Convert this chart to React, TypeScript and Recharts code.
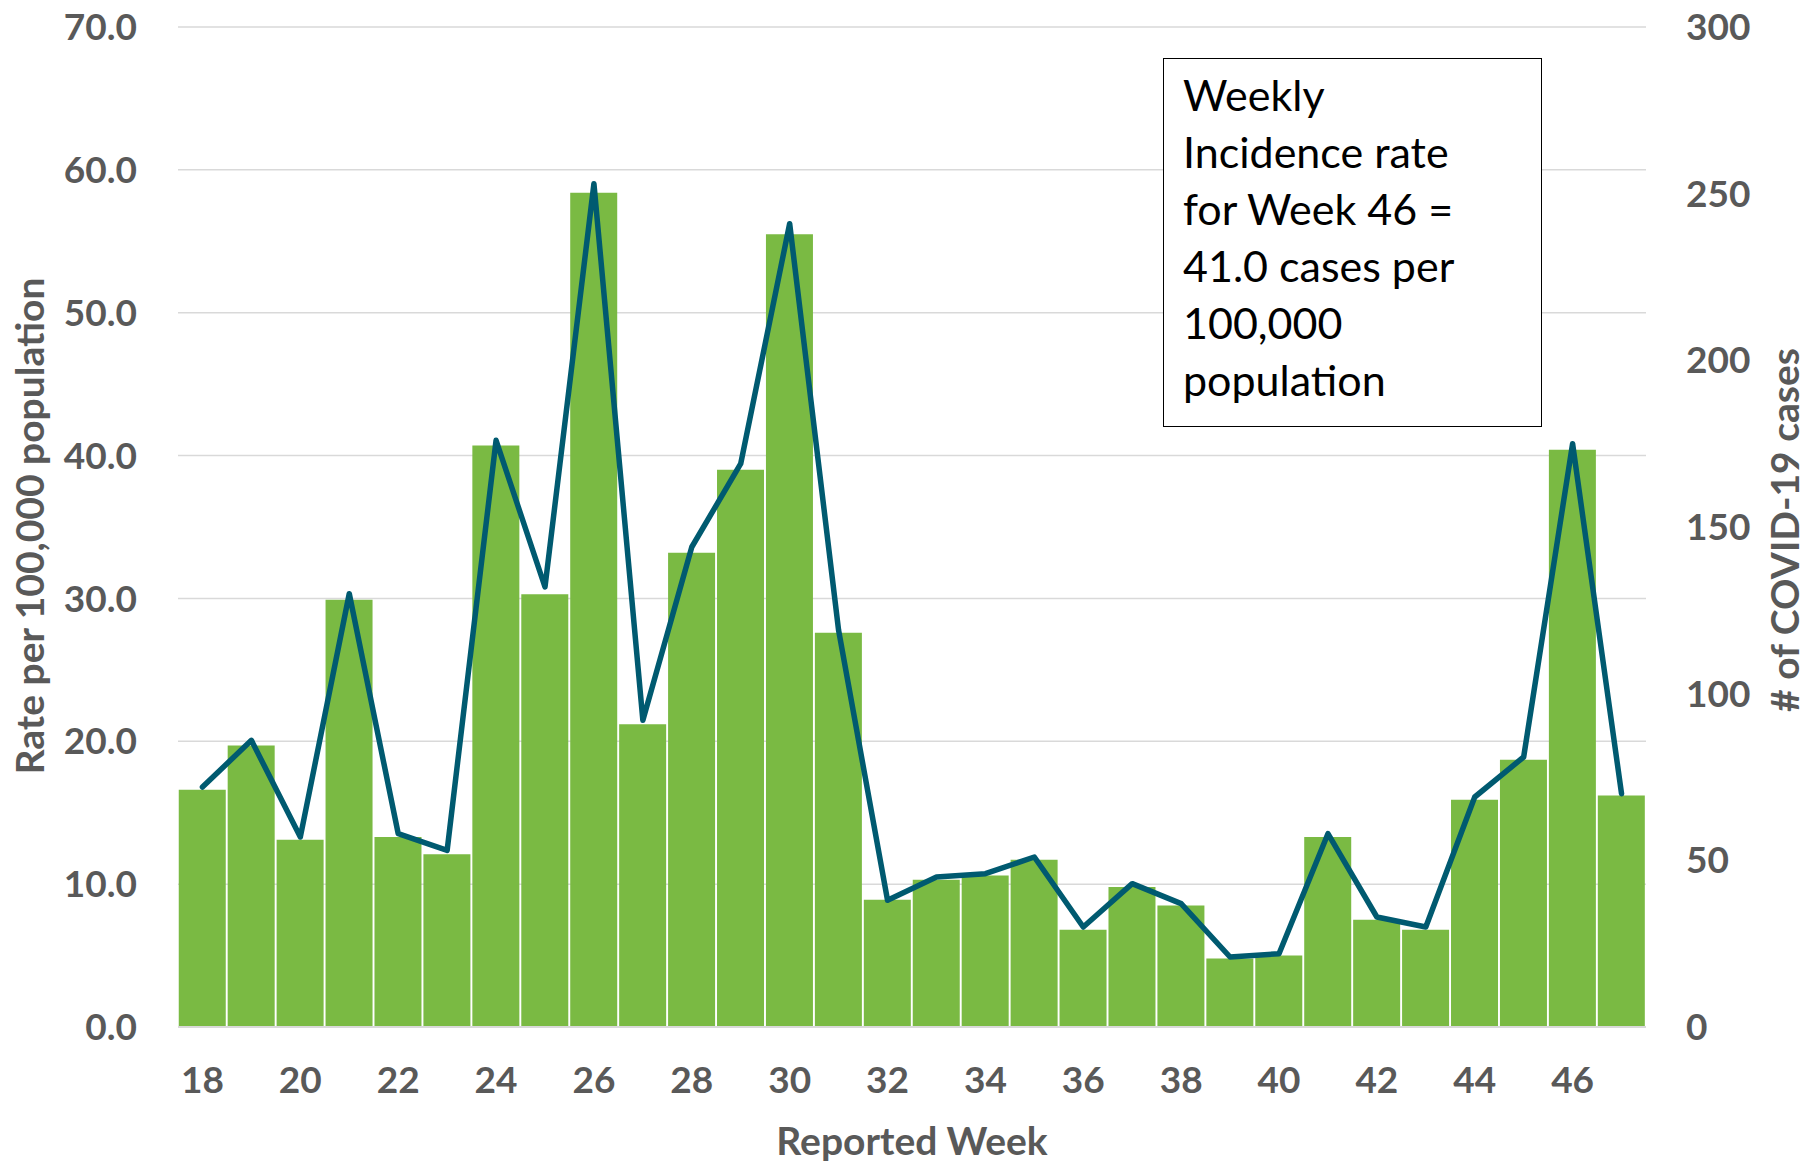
import { ComposedChart, Bar, Line, XAxis, YAxis, CartesianGrid, Label } from "recharts";

const weeks = [18, 19, 20, 21, 22, 23, 24, 25, 26, 27, 28, 29, 30, 31, 32, 33, 34, 35, 36, 37, 38, 39, 40, 41, 42, 43, 44, 45, 46, 47];
const rates = [16.6, 19.7, 13.1, 29.9, 13.3, 12.1, 40.7, 30.3, 58.4, 21.2, 33.2, 39.0, 55.5, 27.6, 8.9, 10.3, 10.6, 11.7, 6.8, 9.8, 8.5, 4.8, 5.0, 13.3, 7.5, 6.8, 15.9, 18.7, 40.4, 16.2];
const cases = [72, 86, 57, 130, 58, 53, 176, 132, 253, 92, 144, 169, 241, 119, 38, 45, 46, 51, 30, 43, 37, 21, 22, 58, 33, 30, 69, 81, 175, 70];
const rateTicks = [0, 10, 20, 30, 40, 50, 60, 70];
const caseTicks = [0, 50, 100, 150, 200, 250, 300];
const noteLines = ["Weekly", "Incidence rate", "for Week 46 =", "41.0 cases per", "100,000", "population"];

const data = weeks.map((w, i) => ({ week: w, rate: rates[i], cases: cases[i] }));

const FONT = "Lato, 'Open Sans', sans-serif";
const GREY = "#595959";
const tickStyle = { fill: GREY, fontSize: 37, fontWeight: 700, fontFamily: FONT };
const titleStyle = { fill: GREY, fontSize: 39, fontWeight: 700, fontFamily: FONT };

export default function App() {
  return (
    <div style={{ position: "absolute", left: 0, top: 0, width: 1820, height: 1162, background: "#fff" }}>
      <ComposedChart width={1820} height={1162} data={data} margin={{ top: 27, right: 0, bottom: 0, left: 0 }} barCategoryGap={0.75}>
        <CartesianGrid yAxisId="left" vertical={false} stroke="#d9d9d9" strokeWidth={1.5} />
        <XAxis dataKey="week" interval={1} height={135} tickLine={false} tickSize={0} tickMargin={40}
          axisLine={{ stroke: "#d9d9d9", strokeWidth: 2 }} tick={tickStyle}>
          <Label value="Reported Week" position="insideBottom" offset={7} style={titleStyle} />
        </XAxis>
        <YAxis yAxisId="left" width={178} domain={[0, 70]} ticks={rateTicks} axisLine={false} tickLine={false}
          tickSize={0} tickMargin={41} tick={tickStyle} tickFormatter={(v: number) => v.toFixed(1)}>
          <Label content={() => (
            <text transform="translate(44,526) rotate(-90)" textAnchor="middle" style={titleStyle}>
              Rate per 100,000 population
            </text>
          )} />
        </YAxis>
        <YAxis yAxisId="right" orientation="right" width={174} domain={[0, 300]} ticks={caseTicks} axisLine={false}
          tickLine={false} tickSize={0} tickMargin={40} tick={{ ...tickStyle, textAnchor: "start" }}>
          <Label content={() => (
            <text transform="translate(1799,530) rotate(-90)" textAnchor="middle" style={titleStyle}>
              # of COVID-19 cases
            </text>
          )} />
        </YAxis>
        <Bar yAxisId="left" dataKey="rate" fill="#7aba43" isAnimationActive={false} />
        <Line yAxisId="right" dataKey="cases" type="linear" stroke="#005a70" strokeWidth={5.5} dot={false}
          strokeLinejoin="round" strokeLinecap="round" isAnimationActive={false} />
      </ComposedChart>
      <div style={{
        position: "absolute", left: 1163, top: 58, width: 379, height: 369, boxSizing: "border-box",
        border: "1.5px solid #000", background: "#fff", padding: "7px 0 0 19px",
        fontFamily: FONT, fontSize: 43, lineHeight: "57px", color: "#000", whiteSpace: "nowrap",
      }}>
        {noteLines.map((t) => <div key={t}>{t}</div>)}
      </div>
    </div>
  );
}
